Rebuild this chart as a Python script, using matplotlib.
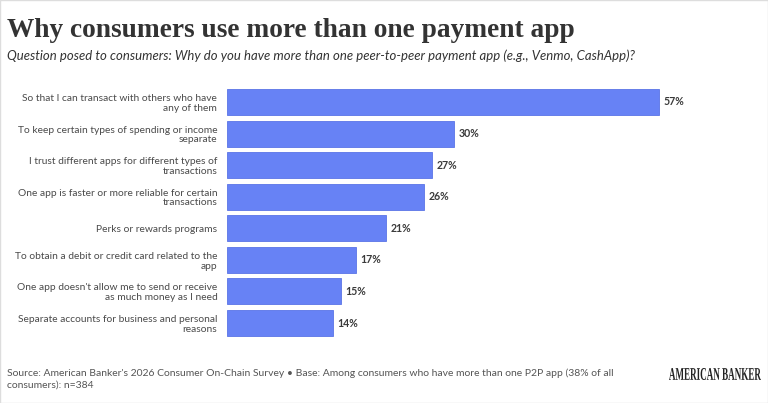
import matplotlib.pyplot as plt
from matplotlib.patches import PathPatch, Rectangle
from matplotlib.textpath import TextPath
from matplotlib.font_manager import FontProperties
from matplotlib.transforms import Affine2D

reasons = [
    "So that I can transact with others who have\nany of them",
    "To keep certain types of spending or income\nseparate",
    "I trust different apps for different types of\ntransactions",
    "One app is faster or more reliable for certain\ntransactions",
    "Perks or rewards programs",
    "To obtain a debit or credit card related to the\napp",
    "One app doesn't allow me to send or receive\nas much money as I need",
    "Separate accounts for business and personal\nreasons",
]
shares = [57, 30, 27, 26, 21, 17, 15, 14]

title = "Why consumers use more than one payment app"
subtitle = ("Question posed to consumers: Why do you have more than one "
            "peer-to-peer payment app (e.g., Venmo, CashApp)?")
source = ("Source: American Banker's 2026 Consumer On-Chain Survey \u2022 Base: Among consumers "
          "who have more than one P2P app (38% of all\nconsumers): n=384")

W, H = 768, 403
fig = plt.figure(figsize=(W / 100, H / 100), dpi=100)
fig.patch.set_facecolor("white")

# axes placed in pixel terms
left, right = 227, 740
top, bottom = 86.2, 338.8
ax = fig.add_axes([left / W, 1 - bottom / H, (right - left) / W, (bottom - top) / H])
px_per_pct = 7.58
ax.set_xlim(0, (right - left) / px_per_pct)
ax.set_ylim(len(shares) - 0.5, -0.5)

ypos = list(range(len(shares)))
ax.barh(ypos, shares, height=0.82, color="#6782f5", edgecolor="#5a74e6", linewidth=0.6)

for y, v in zip(ypos, shares):
    ax.text(v + 0.6, y, f"{v}%", va="center", ha="left", fontsize=7.6,
            fontfamily="Lato", fontweight="bold", color="#3a3a3a")

ax.set_yticks(ypos)
ax.set_yticklabels(reasons, fontsize=7.4, fontfamily="Lato", color="#4a4a4a",
                   linespacing=1.1)
ax.tick_params(axis="y", length=0, pad=7)
ax.set_xticks([])
for s in ax.spines.values():
    s.set_visible(False)

fig.text(7 / W, 1 - 37 / H, title, fontsize=19.7, fontfamily="Liberation Serif",
         fontweight="bold", color="#333333", va="baseline", ha="left")
fig.text(7 / W, 1 - 59.5 / H, subtitle, fontsize=9.45, fontfamily="Lato",
         style="italic", color="#333333", va="baseline", ha="left")
fig.text(7 / W, 1 - 379 / H, source, fontsize=7.45, fontfamily="Lato",
         color="#555555", va="center", ha="left", linespacing=1.35)

# condensed masthead-style logo, squeezed horizontally to fit its slot
fp = FontProperties(family="Liberation Serif", weight="bold")
tp = TextPath((0, 0), "AMERICAN BANKER", size=10, prop=fp)
ext = tp.get_extents()
sx = (761 - 669) / ext.width
sy = 12 / ext.height
tr = Affine2D().translate(-ext.x0, -ext.y0).scale(sx, sy).translate(669, H - 380)
fig.add_artist(PathPatch(tr.transform_path(tp), facecolor="#222222", edgecolor="none",
                         transform=None))

fig.add_artist(Rectangle((0, 0), 1, 1, transform=fig.transFigure, fill=False,
                         edgecolor="#dddddd", linewidth=1))

fig.savefig("out.png", dpi=100)
